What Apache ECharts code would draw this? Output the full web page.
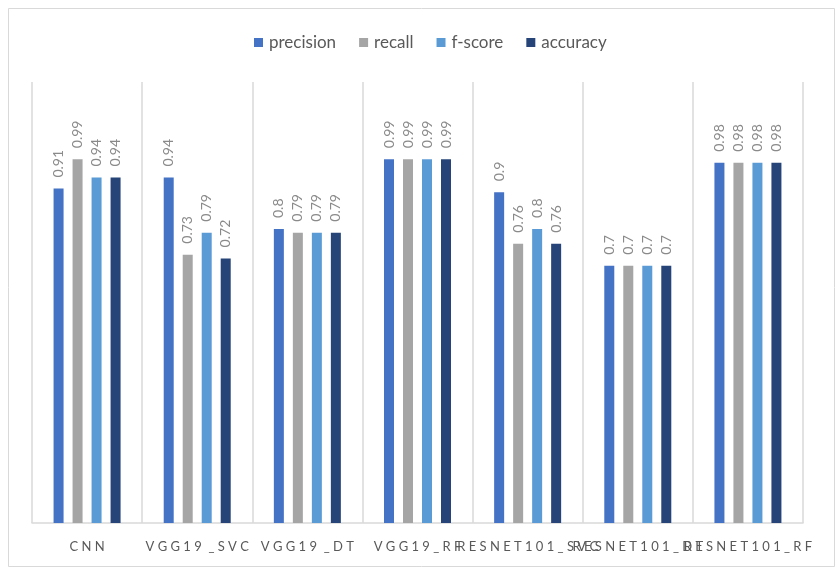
<!DOCTYPE html>
<html>
<head>
<meta charset="utf-8">
<style>
  html, body { margin: 0; padding: 0; background: #fff; }
  #chart { width: 837px; height: 569px; }
</style>
<script src="https://cdn.jsdelivr.net/npm/echarts@6/dist/echarts.min.js"></script>
</head>
<body>
<div id="chart"></div>
<script>
// Model names along the x axis
const categories = ['CNN', 'VGG19 _SVC', 'VGG19 _DT', 'VGG19_RF', 'RESNET101_SVC', 'RESNET101_DT', 'RESNET101_RF'];

// Metric values per model
const precision = [0.91, 0.94, 0.80, 0.99, 0.90, 0.70, 0.98];
const recall    = [0.99, 0.73, 0.79, 0.99, 0.76, 0.70, 0.98];
const fscore    = [0.94, 0.79, 0.79, 0.99, 0.80, 0.70, 0.98];
const accuracy  = [0.94, 0.72, 0.79, 0.99, 0.76, 0.70, 0.98];

const seriesNames = ['precision', 'recall', 'f-score', 'accuracy'];
const seriesData = [precision, recall, fscore, accuracy];
const colors = ['#4472C4', '#A5A5A5', '#5B9BD5', '#264478'];

const FONT = 'Lato, "Liberation Sans", sans-serif';

const chart = echarts.init(document.getElementById('chart'), null, { renderer: 'canvas' });

// Spread letters apart for the wide-tracked axis labels
const spaced = s => s.split('').join(' ').replace(/   /g, '  ');

const series = seriesNames.map((name, i) => ({
  name,
  type: 'bar',
  data: seriesData[i],
  barWidth: 10,
  barGap: '90%',
  itemStyle: { color: colors[i] },
  label: {
    show: true,
    position: 'top',
    rotate: 90,
    align: 'left',
    verticalAlign: 'middle',
    distance: 11,
    color: '#8a8a8a',
    fontSize: 14,
    fontFamily: FONT,
    formatter: p => String(p.value)
  }
}));

chart.setOption({
  animation: false,
  backgroundColor: '#fff',
  color: colors,
  graphic: [{
    type: 'rect',
    shape: { x: 8.5, y: 8.5, width: 826, height: 558 },
    style: { fill: 'none', stroke: '#d9d9d9', lineWidth: 1 },
    silent: true
  }],
  legend: {
    top: 29,
    left: 249,
    itemWidth: 9,
    itemHeight: 9,
    itemGap: 23,
    icon: 'rect',
    textStyle: { color: '#595959', fontSize: 17, fontFamily: FONT, padding: [0, 0, 0, 1] },
    data: seriesNames
  },
  grid: { left: 32, right: 34, top: 82, bottom: 46, containLabel: false },
  xAxis: {
    type: 'category',
    data: categories,
    boundaryGap: true,
    axisLine: { lineStyle: { color: '#d9d9d9', width: 1.5 } },
    axisTick: { show: false },
    splitLine: { show: true, lineStyle: { color: '#d9d9d9', width: 1.5 } },
    axisLabel: {
      interval: 0,
      margin: 17,
      color: '#595959',
      fontSize: 13,
      fontFamily: FONT,
      formatter: v => spaced(v)
    }
  },
  yAxis: {
    type: 'value',
    min: 0,
    max: 1.2,
    show: false,
    splitLine: { show: false }
  },
  series
});
</script>
</body>
</html>
